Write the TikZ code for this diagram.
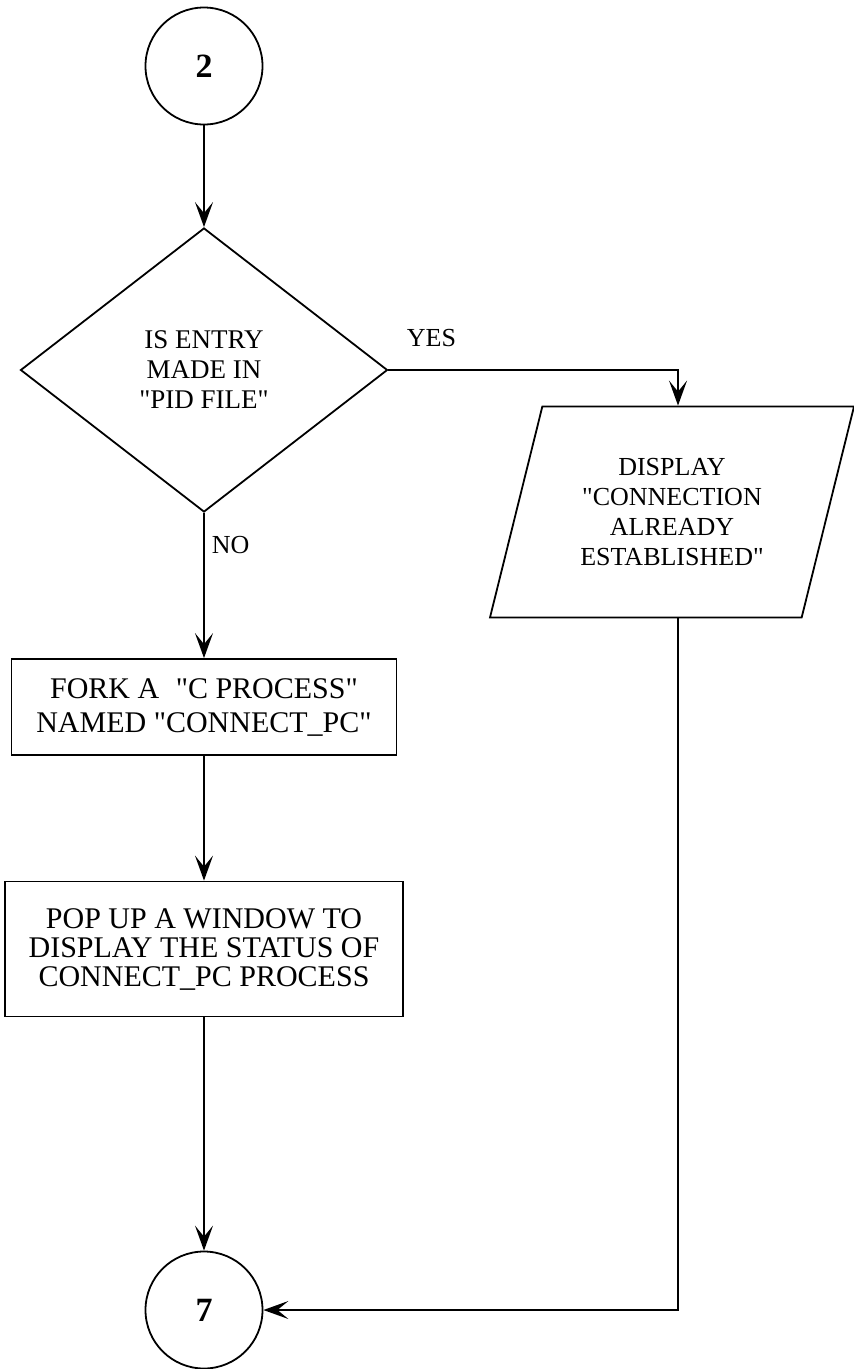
\documentclass[tikz,border=0pt]{standalone}
\usepackage{fontspec}
\setmainfont{Liberation Serif}[Ligatures=TeXOff]
\usetikzlibrary{shapes.geometric, arrows.meta}
\begin{document}
\begin{tikzpicture}[x=1pt, y=-1pt,
  line width=1.8pt,
  flow/.style={-{Stealth[length=25pt,width=18pt,inset=11pt]}},
  connector/.style={circle, draw, minimum size=117pt, inner sep=0pt,
    font=\fontsize{34}{36}\selectfont\bfseries},
  decision/.style={diamond, draw, minimum width=367pt, minimum height=284pt,
    inner sep=0pt, align=center, font=\fontsize{27}{30}\selectfont},
  process/.style={rectangle, draw, inner sep=0pt, align=center},
  io/.style={trapezium, draw, trapezium left angle=71, trapezium right angle=109,
    trapezium stretches=true, minimum width=365pt, minimum height=211pt,
    inner sep=0pt, align=center, font=\fontsize{26}{30}\selectfont},
  lbl/.style={font=\fontsize{26}{28}\selectfont, inner sep=0pt}
]
\useasboundingbox (0,0) rectangle (854,1369);

% nodes
\node[connector] (c2) at (204,66) {2};
\node[decision] (dec) at (204,370) {IS ENTRY\\MADE IN\\"PID FILE"};
\node[io] (disp) at (672,512) {DISPLAY\\"CONNECTION\\ALREADY\\ESTABLISHED"};
\node[process, minimum width=385pt, minimum height=96pt,
  font=\fontsize{30}{34}\selectfont] (fork) at (204,707)
  {FORK A\hspace{0.3em} "C PROCESS"\\NAMED "CONNECT\_PC"};
\node[process, minimum width=398pt, minimum height=135pt,
  font=\fontsize{30}{29}\selectfont] (pop) at (204,949)
  {POP UP A WINDOW TO\\DISPLAY THE STATUS OF\\CONNECT\_PC PROCESS};
\node[connector] (c7) at (204,1310) {7};

% branch labels
\node[lbl, anchor=west] (yes) at (406,338) {YES};
\node[lbl, anchor=west] (no) at (211,545) {NO};

% connectors
\draw[flow] (c2) -- (dec);
\draw[flow] (dec.east) -| ([xshift=6pt]disp.north);
\draw[flow] (dec) -- (fork);
\draw[flow] (fork) -- (pop);
\draw[flow] (pop) -- (c7);
\draw[flow] ([xshift=6pt]disp.south) |- (c7.east);
\end{tikzpicture}
\end{document}
